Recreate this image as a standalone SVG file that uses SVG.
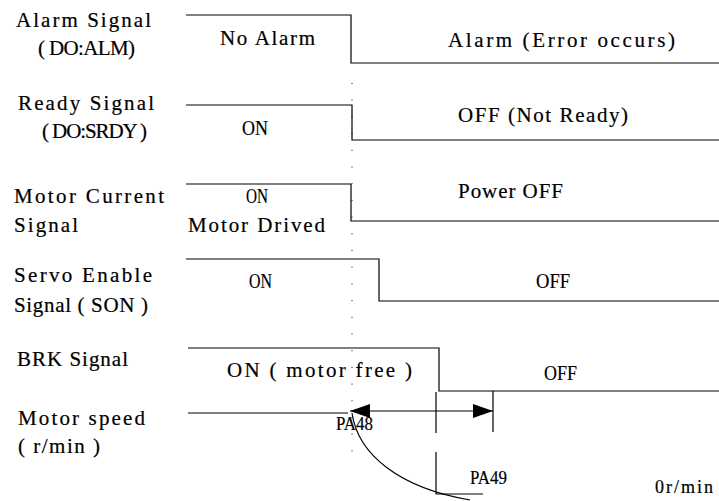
<svg xmlns="http://www.w3.org/2000/svg" width="719" height="501" viewBox="0 0 719 501">
<style>
text{font-family:"Liberation Serif","Noto Sans CJK SC",serif;font-size:21px;fill:#000;stroke:#000;stroke-width:0.2}
.c{font-size:22px}
.w{stroke:#000;stroke-width:1.2;fill:none}
.dot{stroke:#000;stroke-width:1;stroke-dasharray:1 15.7;fill:none}
</style>
<defs>
<marker id="ah" viewBox="0 0 20 14" refX="20" refY="7" markerWidth="20" markerHeight="14" markerUnits="userSpaceOnUse" orient="auto-start-reverse">
<path d="M0 0 L20 7 L0 14 Z" fill="#000"/>
</marker>
</defs>
<g id="labels">
<text x="16" y="27" textLength="135">Alarm Signal</text>
<text x="38" y="55" textLength="97">( DO:ALM)</text>
<text x="18" y="110" textLength="136">Ready Signal</text>
<text x="42" y="138" textLength="105">( DO:SRDY )</text>
<text x="14" y="203" textLength="150">Motor Current</text>
<text x="14" y="232" textLength="64">Signal</text>
<text x="14" y="282" textLength="138">Servo Enable</text>
<text x="14" y="312" textLength="134">Signal ( SON )</text>
<text x="17" y="366" textLength="111">BRK Signal</text>
<text x="18" y="425" textLength="127">Motor speed</text>
<text x="18" y="453" textLength="82">( r/min )</text>
</g>
<g id="alarm">
<path class="w" d="M186 15 H351 V63 H719"/>
<text x="220" y="45" textLength="95">No Alarm</text>
<text x="448" y="47" textLength="227">Alarm (Error occurs)</text>
</g>
<g id="ready">
<path class="w" d="M186 105 H352 V140 H719"/>
<text class="c" x="242" y="135" textLength="26" lengthAdjust="spacingAndGlyphs">ON</text>
<text x="458" y="122" textLength="170">OFF (Not Ready)</text>
</g>
<g id="current">
<path class="w" d="M186 184 H351 V221 H719"/>
<text class="c" x="246" y="203" textLength="22" lengthAdjust="spacingAndGlyphs">ON</text>
<text x="188" y="232" textLength="137">Motor Drived</text>
<text x="458" y="198" textLength="105">Power OFF</text>
</g>
<g id="servo">
<path class="w" d="M186 259 H379 V301 H719"/>
<text class="c" x="249" y="288" textLength="23" lengthAdjust="spacingAndGlyphs">ON</text>
<text class="c" x="536" y="288" textLength="34" lengthAdjust="spacingAndGlyphs">OFF</text>
</g>
<g id="brk">
<path class="w" d="M188 348 H439 V391 H719"/>
<text x="227" y="377" textLength="185">ON  ( motor free )</text>
<text class="c" x="544" y="380" textLength="33" lengthAdjust="spacingAndGlyphs">OFF</text>
</g>
<g id="speed">
<path class="w" d="M188 413 H348"/>
<text x="336" y="430" textLength="37" lengthAdjust="spacingAndGlyphs" style="font-size:19px">PA48</text>
<text x="470" y="484" textLength="37" lengthAdjust="spacingAndGlyphs" style="font-size:19px">PA49</text>
<text x="655" y="493" textLength="58" style="font-size:18px">0r/min</text>
</g>
<g id="connectors">
<path class="dot" d="M352 83 V460"/>
<path class="w" d="M350 411 H493" marker-start="url(#ah)" marker-end="url(#ah)"/>
<path class="w" d="M493 391 V432"/>
<path class="w" d="M436 392 V433 M436 452 V494 H483"/>
<path class="w" d="M352 413 C358 455 400 488 470 500"/>
</g>
</svg>
